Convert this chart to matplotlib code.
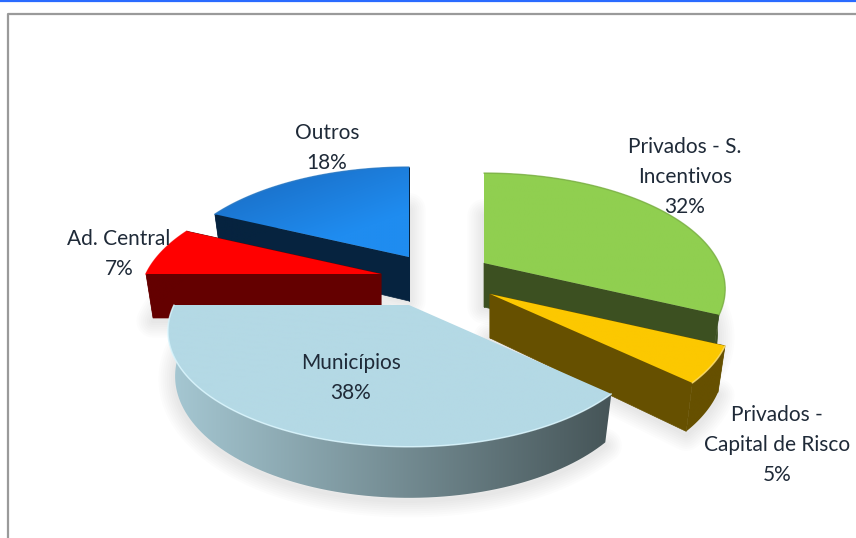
import numpy as np
import matplotlib
matplotlib.use("Agg")
import matplotlib.pyplot as plt
from matplotlib.colors import to_rgb
from matplotlib.patches import Polygon

categories = ["Privados - S.\nIncentivos", "Privados -\nCapital de Risco", "Municípios", "Ad. Central", "Outros"]
values = [32, 5, 38, 7, 18]

top_a = ["#90cf50", "#fcc800", "#b4d9e5", "#ff0000", "#1968bd"]
top_b = ["#90cf50", "#fcc800", "#b4d9e5", "#ff0000", "#1f8cf0"]
rim = ["#7fb548", "#ffe27a", "#dcf7ff", "#ff0000", "#2a7cca"]
wall_a = ["#3c5021", "#665000", "#a6c8d3", "#640000", "#06233f"]
wall_b = ["#3c5021", "#665000", "#465558", "#640000", "#06233f"]

# pie geometry, in pixels
APEX = [(484, 263), (490, 294), (409, 305), (381, 274), (409, 257)]
RX, RY, PERSP = 235, 110, 0.224
DEPTH = 44
DRAW_ORDER = [4, 0, 3, 1, 2]

edges = np.cumsum([0] + values) * 3.6


def project(theta, apex, bottom=False):
    t = np.radians(theta)
    x, y = np.sin(t), -np.cos(t)
    w = 1 / (1 - PERSP * y)
    fx, fy, dz = (0.97, 1.05, DEPTH) if bottom else (1, 1, 0)
    return apex[0] + RX * x * w * fx, apex[1] + RY * y * w * fy + dz


def gradient_poly(ax, pts, c0, c1, angle=0.0, zorder=2):
    # horizontal gradient over the polygon, optionally tilted, clipped to its shape
    pts = np.asarray(pts)
    x0, x1 = pts[:, 0].min(), pts[:, 0].max()
    y0, y1 = pts[:, 1].min(), pts[:, 1].max()
    gx, gy = np.meshgrid(np.linspace(0, 1, 120), np.linspace(0, 1, 120))
    m = np.clip(gx * np.cos(angle) + gy * np.sin(angle), 0, 1)[..., None]
    img = np.array(to_rgb(c0)) * (1 - m) + np.array(to_rgb(c1)) * m
    im = ax.imshow(img, extent=(x0, x1, y1, y0), aspect="auto", zorder=zorder, interpolation="bilinear")
    clip = Polygon(pts, closed=True, transform=ax.transData, fc="none", ec="none")
    ax.add_patch(clip)
    im.set_clip_path(clip)


fig = plt.figure(figsize=(8.56, 5.38), dpi=100)
ax = fig.add_axes([0, 0, 1, 1])
ax.axis("off")

z = 2
for i in DRAW_ORDER:
    th = np.linspace(edges[i], edges[i + 1], 90)
    apex = APEX[i]
    tx, ty = project(th, apex)
    bx, by = project(th, apex, bottom=True)
    a_b = (apex[0], apex[1] + DEPTH)

    # soft shadow under the slice
    outline = np.vstack([[a_b], np.column_stack([bx, by + 3])])
    for lw in np.arange(3, 26, 3):
        ax.add_patch(Polygon(outline, closed=True, fc="none", ec="k", lw=lw, alpha=0.012,
                             joinstyle="round", zorder=z))
    z += 1

    # cut faces, the big front slice hides its own
    if i != 2:
        for k in (0, -1):
            face = [apex, (tx[k], ty[k]), (bx[k], by[k]), a_b]
            col = wall_b[i] if k == 0 else wall_a[i]
            ax.add_patch(Polygon(face, closed=True, fc=col, ec=col, lw=0.5, zorder=z))
    z += 1

    # outer wall
    wall = np.vstack([np.column_stack([tx, ty]), np.column_stack([bx, by])[::-1]])
    gradient_poly(ax, wall, wall_a[i], wall_b[i], zorder=z)
    z += 1

    # top face
    top = np.vstack([[apex], np.column_stack([tx, ty])])
    gradient_poly(ax, top, top_a[i], top_b[i], angle=0.9, zorder=z)
    z += 1
    ax.plot(tx, ty, color=rim[i], lw=1.1, alpha=0.8, zorder=z, solid_capstyle="round")
    z += 1

# chart frame and window line
ax.plot([8, 8, 856], [538, 14, 14], color="#9a9a9a", lw=1.6, zorder=z)
ax.plot([0, 856], [0.5, 0.5], color="#2a6bff", lw=1.6, zorder=z)

label_pos = [(685, 177), (777, 445), (351, 378), (119, 254), (327, 148)]
for name, v, (lx, ly) in zip(categories, values, label_pos):
    ax.text(lx, ly, f"{name}\n{v}%", ha="center", va="center", fontsize=15, family="Lato",
            color="#1f2a38", linespacing=1.65, zorder=z + 1)

ax.set_xlim(0, 856)
ax.set_ylim(538, 0)
fig.savefig("out.png", dpi=100)
